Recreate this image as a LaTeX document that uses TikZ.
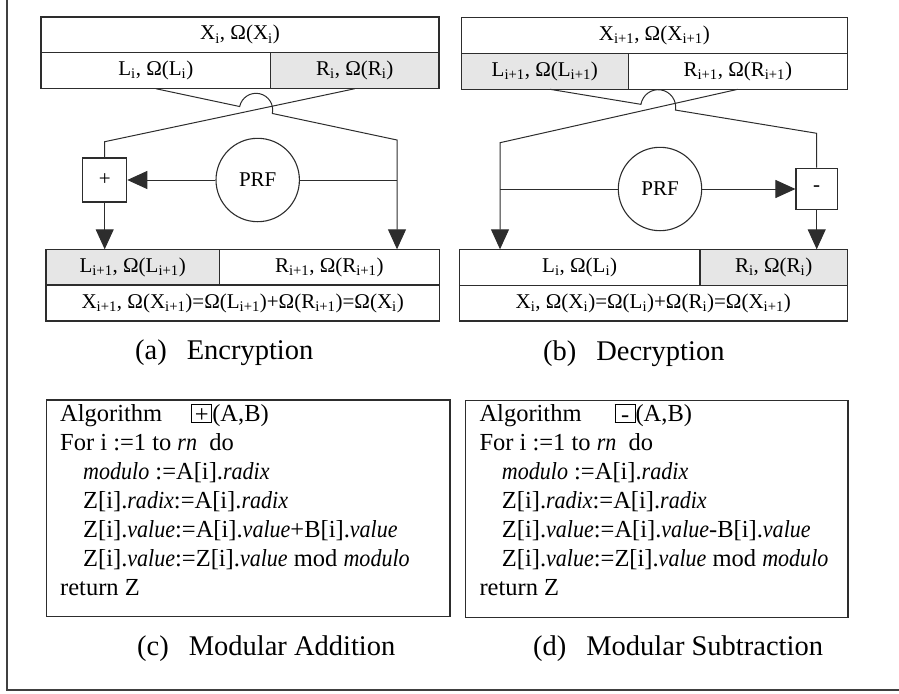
\documentclass[tikz,border=0pt]{standalone}
\usepackage{fontspec}
\setmainfont{Liberation Serif}
\newfontfamily\condserif[FakeStretch=0.9]{Liberation Serif}
\usetikzlibrary{arrows.meta,calc}
\newcommand{\dfont}{\fontsize{21}{25}\selectfont}
\newcommand{\afont}{\fontsize{24.5}{29}\selectfont}
\newcommand{\cfont}{\fontsize{28.5}{33}\selectfont}
\newcommand{\sbs}[1]{\textsubscript{#1}}
\newcommand{\iv}[1]{{\condserif\itshape #1}}
\newcommand{\opsym}[1]{{\setlength{\fboxsep}{0pt}\setlength{\fboxrule}{1pt}\raisebox{-0.5pt}{\fbox{\makebox[19pt][c]{\rule{0pt}{17pt}#1}}}}}
\definecolor{cellgray}{RGB}{230,230,230}
\definecolor{linegray}{RGB}{45,45,45}
\tikzset{
  cell/.style={draw=linegray,line width=1.2pt,inner sep=0pt,outer sep=0pt,anchor=north west,font=\dfont},
  shaded/.style={fill=cellgray},
  opbox/.style={draw=linegray,line width=1.2pt,inner sep=0pt,minimum width=44pt,minimum height=44pt,font=\dfont},
  prf/.style={circle,draw=linegray,line width=1.1pt,inner sep=0pt,minimum size=83.4pt,font=\dfont},
  conn/.style={draw=linegray,line width=1pt},
  arr/.style={conn,-{Triangle[length=20pt,width=18pt]}},
  algline/.style={anchor=base west,inner sep=0pt,font=\afont},
  algbox/.style={draw=linegray,line width=1.2pt,anchor=north west,inner sep=0pt},
  caption/.style={anchor=base west,inner sep=0pt,font=\cfont},
  frame/.style={draw=black!75,line width=2.4pt}
}
\begin{document}
\begin{tikzpicture}[x=1pt,y=-1pt]
\useasboundingbox (0,0) rectangle (899,693);
\draw[frame] (7,-10) -- (7,690) -- (910,690);

% ---------- (a) Encryption ----------
\node[cell,minimum width=398pt,minimum height=35.7pt] (aX) at (41,17) {X\sbs{i}, Ω(X\sbs{i})};
\node[cell,minimum width=229.7pt,minimum height=36pt] (aL) at (41,52.7) {L\sbs{i}, Ω(L\sbs{i})};
\node[cell,shaded,minimum width=168.3pt,minimum height=36pt] (aR) at (270.7,52.7) {R\sbs{i}, Ω(R\sbs{i})};
\node[cell,shaded,minimum width=173.3pt,minimum height=35.7pt] (aL1) at (46,249.3) {L\sbs{i+1}, Ω(L\sbs{i+1})};
\node[cell,minimum width=220pt,minimum height=35.7pt] (aR1) at (219.3,249.3) {R\sbs{i+1}, Ω(R\sbs{i+1})};
\node[cell,minimum width=393.3pt,minimum height=36pt] (aX1) at (46,285) {X\sbs{i+1}, Ω(X\sbs{i+1})=Ω(L\sbs{i+1})+Ω(R\sbs{i+1})=Ω(X\sbs{i})};
\node[opbox] (plus) at (104.7,180) {+};
\node[prf] (aprf) at (257.7,180) {PRF};
\coordinate (axc) at (256,110);
\coordinate (aRc) at (397,140);
\coordinate (aLc) at (104.7,141.7);
\coordinate (aj) at (397,180);
\draw[arr] (aL.south) -- ($(axc)+(192:16.7)$) arc[start angle=192,end angle=372,radius=16.7] -- (aRc) -- (aRc |- aR1.north);
\draw[conn] (aR.south) -- (aLc) -- (plus.north);
\draw[conn] (aj) -- (aprf.east);
\draw[arr] (aprf.west) -- (plus.east);
\draw[arr] (plus.south) -- (plus.south |- aL1.north);
\node[caption] (capa) at (135,359) {(a)\hspace{0.7em}Encryption};

% ---------- (b) Decryption ----------
\node[cell,minimum width=386pt,minimum height=36pt] (bX) at (461.3,17.3) {X\sbs{i+1}, Ω(X\sbs{i+1})};
\node[cell,shaded,minimum width=167pt,minimum height=36pt] (bL) at (461.3,53.3) {L\sbs{i+1}, Ω(L\sbs{i+1})};
\node[cell,minimum width=219pt,minimum height=36pt] (bR) at (628.3,53.3) {R\sbs{i+1}, Ω(R\sbs{i+1})};
\node[cell,minimum width=240.7pt,minimum height=36pt] (bL0) at (459.3,249.3) {L\sbs{i}, Ω(L\sbs{i})};
\node[cell,shaded,minimum width=147.3pt,minimum height=36pt] (bR0) at (700,249.3) {R\sbs{i}, Ω(R\sbs{i})};
\node[cell,minimum width=388pt,minimum height=35.7pt] (bX0) at (459.3,285.3) {X\sbs{i}, Ω(X\sbs{i})=Ω(L\sbs{i})+Ω(R\sbs{i})=Ω(X\sbs{i+1})};
\node[opbox,minimum width=41.3pt,minimum height=41.6pt] (minus) at (816.7,189) {-};
\node[prf] (bprf) at (660,189) {PRF};
\coordinate (bxc) at (658.2,107.2);
\coordinate (bRc) at (816.7,133.3);
\coordinate (bLc) at (500,142.7);
\coordinate (bj) at (500,189);
\draw[conn] ([xshift=5.2pt]bL.south) -- ($(bxc)+(189.4:17.5)$) arc[start angle=189.4,end angle=369.4,radius=17.5] -- (bRc) -- (minus.north);
\draw[arr] (bR.south) -- (bLc) -- (bLc |- bL0.north);
\draw[conn] (bj) -- (bprf.west);
\draw[arr] (bprf.east) -- (minus.west);
\draw[arr] (minus.south) -- (minus.south |- bR0.north);
\node[caption] (capb) at (543,360) {(b)\hspace{0.7em}Decryption};

% ---------- (c) Modular Addition ----------
\node[algbox,minimum width=403.3pt,minimum height=216.7pt] (algc) at (46,399.3) {};
\node[algline] (c1) at (60,421.7) {Algorithm\hspace{29pt}\opsym{+}(A,B)};
\node[algline] (c2) at (60,450.6) {For i :=1 to \iv{rn}\ \ do};
\node[algline] (c3) at (83,479.5) {\iv{modulo} :=A[i].\iv{radix}};
\node[algline] (c4) at (83,508.4) {Z[i].\iv{radix}:=A[i].\iv{radix}};
\node[algline] (c5) at (83,537.3) {Z[i].\iv{value}:=A[i].\iv{value}+B[i].\iv{value}};
\node[algline] (c6) at (83,566.2) {Z[i].\iv{value}:=Z[i].\iv{value} mod \iv{modulo}};
\node[algline] (c7) at (60,595.1) {return Z};
\node[caption] (capc) at (137,655) {(c)\hspace{0.7em}Modular Addition};

% ---------- (d) Modular Subtraction ----------
\node[algbox,minimum width=382.3pt,minimum height=216.7pt] (algd) at (465,400) {};
\node[algline] (d1) at (479.3,421.7) {Algorithm\hspace{33pt}\opsym{-}(A,B)};
\node[algline] (d2) at (479.3,450.6) {For i :=1 to \iv{rn}\ \ do};
\node[algline] (d3) at (501.7,479.5) {\iv{modulo} :=A[i].\iv{radix}};
\node[algline] (d4) at (501.7,508.4) {Z[i].\iv{radix}:=A[i].\iv{radix}};
\node[algline] (d5) at (501.7,537.3) {Z[i].\iv{value}:=A[i].\iv{value}-B[i].\iv{value}};
\node[algline] (d6) at (501.7,566.2) {Z[i].\iv{value}:=Z[i].\iv{value} mod \iv{modulo}};
\node[algline] (d7) at (479.3,595.1) {return Z};
\node[caption] (capd) at (533,655) {(d)\hspace{0.7em}Modular Subtraction};
\end{tikzpicture}
\end{document}
